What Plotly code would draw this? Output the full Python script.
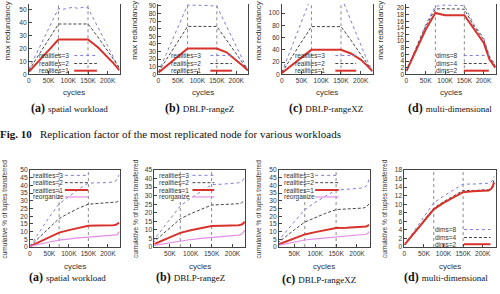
import plotly.graph_objects as go

# ---------------- data ----------------
# top row: max redundancy
top_cycles = [0, 25000, 50000, 75000, 87500, 100000, 112500, 125000, 137500, 150000, 175000, 200000, 215000, 230000]
spatial_r3 = [4, 20, 36, 51, 50.5, 51.5, 52, 51, 52, 51.5, 37, 22, 13, 4]
spatial_r2 = [3, 15, 27, 39, 39, 39, 39.5, 39, 39, 39, 29, 18.5, 11.5, 5]
spatial_r1 = [2, 10, 18.5, 27, 27, 27, 27, 27, 27, 27, 21, 13.5, 8.5, 3]
rangez_r3 = [3, 32, 62, 91, 91, 91, 90.5, 90.5, 90, 90, 63, 36, 20, 5]
rangez_r2 = [3, 23, 43, 63, 63, 63, 63, 63, 63, 63, 45, 26, 16, 5]
rangez_r1 = [2, 12.5, 23, 34, 34, 34, 34, 34, 34, 34, 29, 19, 12, 5]
rangexz_r3 = [3, 45, 87, 128, 128, 128, 128, 128, 128, 128, 88, 48, 25, 5]
rangexz_r2 = [3, 28, 53, 78, 78, 78, 78, 78, 78, 78, 56, 33, 19, 5]
rangexz_r1 = [2, 15, 27.5, 40, 40, 40, 40, 40, 40, 40, 34, 24, 15, 5]
multi_d8 = [1, 8.3, 15, 20.5, 20.8, 20.9, 20.8, 20.9, 20.8, 20.7, 15, 11, 5.5, 3]
multi_d4 = [1, 8, 14.5, 19.7, 19.8, 19.8, 19.7, 19.8, 19.7, 19.6, 14.5, 10.5, 5, 2.5]
multi_d2 = [1, 7.5, 13.5, 18.5, 18.2, 17.8, 17.8, 17.9, 17.8, 17.8, 13.5, 9.5, 4.5, 2]

# bottom row: cumulative % of tuples transferred
bot_cycles = [0, 25000, 50000, 75000, 100000, 125000, 150000, 175000, 200000, 215000, 222000, 226000, 229000]
sp_b_r3 = [0.5, 10, 19.5, 28, 33, 37.5, 41.5, 41.5, 41.8, 42.3, 43.3, 44.8, 47]
sp_b_r2 = [0.5, 6.5, 12.5, 18.5, 22, 25.2, 27.8, 28.2, 28.4, 28.8, 29.2, 29.8, 30.5]
sp_b_r1 = [0.5, 3.5, 6.5, 9.4, 11, 12.5, 13.8, 14, 14, 14.2, 14.6, 15, 15.8]
sp_b_re = [0.5, 2, 3.3, 4.5, 5.3, 5.9, 6.4, 6.8, 7.1, 7.4, 7.9, 8.6, 10]
rz_b_r3 = [0.5, 8.5, 16.3, 24, 28.5, 32.7, 36.4, 36.7, 37, 37.5, 38.3, 39.5, 41.5]
rz_b_r2 = [0.5, 6, 11.3, 16.5, 19.5, 22.2, 24.5, 24.8, 25, 25.3, 25.8, 26.5, 27.5]
rz_b_r1 = [0.5, 3, 5.7, 8.3, 9.8, 11.1, 12.3, 12.4, 12.5, 12.7, 13.2, 13.8, 14.8]
rz_b_re = [0.5, 1.5, 2.6, 3.6, 4.4, 5.1, 5.7, 6.2, 6.6, 7, 7.6, 8.5, 9.9]
rxz_b_r3 = [0.5, 8.5, 16.5, 24.3, 29, 33.2, 37, 37.4, 37.8, 38.4, 39.5, 41.2, 44.5]
rxz_b_r2 = [0.5, 6, 11.2, 16.2, 19.2, 21.9, 24.3, 24.6, 24.9, 25.3, 26, 26.8, 28]
rxz_b_r1 = [0.5, 3, 5.6, 8.2, 9.7, 11.1, 12.4, 12.6, 12.8, 13, 13.4, 13.9, 14.5]
rxz_b_re = [0.5, 2, 3.3, 4.6, 5.3, 5.9, 6.5, 6.9, 7.3, 7.7, 8.3, 9, 10]
md_b_d8 = [0.5, 3.8, 7.1, 10.3, 11.9, 13.3, 14.7, 14.7, 14.8, 14.9, 15.2, 15.7, 16.5]
md_b_d4 = [0.5, 3.4, 6.3, 9.1, 10.6, 12, 13.2, 13.2, 13.3, 13.4, 13.8, 14.5, 15.8]
md_b_d2 = [0.5, 3.3, 6.1, 8.8, 10.3, 11.6, 12.8, 13, 13.1, 13.2, 13.6, 14.2, 15.1]

phase_marks = [75000, 150000]
x_tickvals = [0, 50000, 100000, 150000, 200000]
x_ticktext = ["0", "50K", "100K", "150K", "200K"]
captions = [("(a)", "spatial workload"), ("(b)", "DBLP-rangeZ"),
            ("(c)", "DBLP-rangeXZ"), ("(d)", "multi-dimensional")]
fig_caption_label = "Fig. 10"
fig_caption_text = "Replication factor of the most replicated node for various workloads"

# ---------------- styles ----------------
STY = {
    "r3": dict(color="#7b7bdc", width=1, dash="dot"),
    "r2": dict(color="#444444", width=1, dash="3px,2px"),
    "r1": dict(color="#d8322c", width=2, dash="solid"),
    "re": dict(color="#e48ee4", width=1.2, dash="solid"),
}
SANS = "Liberation Sans"
SERIF = "Liberation Serif"
AX = "#444444"

panels = [
    (1, top_cycles, [("r3", spatial_r3), ("r2", spatial_r2), ("r1", spatial_r1)], [0, 54.5], 10, [0, 230000]),
    (2, top_cycles, [("r3", rangez_r3), ("r2", rangez_r2), ("r1", rangez_r1)], [0, 92.5], 10, [0, 230000]),
    (3, top_cycles, [("r3", rangexz_r3), ("r2", rangexz_r2), ("r1", rangexz_r1)], [0, 115], 20, [0, 230000]),
    (4, top_cycles, [("r3", multi_d8), ("r2", multi_d4), ("r1", multi_d2)], [0, 21.2], 2, [0, 232000]),
    (5, bot_cycles, [("r3", sp_b_r3), ("r2", sp_b_r2), ("r1", sp_b_r1), ("re", sp_b_re)], [0, 50], 5, [0, 230000]),
    (6, bot_cycles, [("r3", rz_b_r3), ("r2", rz_b_r2), ("r1", rz_b_r1), ("re", rz_b_re)], [0, 45], 5, [13000, 230000]),
    (7, bot_cycles, [("r3", rxz_b_r3), ("r2", rxz_b_r2), ("r1", rxz_b_r1), ("re", rxz_b_re)], [0, 50], 5, [13000, 230000]),
    (8, bot_cycles, [("r3", md_b_d8), ("r2", md_b_d4), ("r1", md_b_d2)], [0, 18], 2, [0, 234000]),
]

W, H = 500, 294
xpix = [(27, 118), (157, 247), (281, 372), (406, 496),
        (28, 118), (153, 244), (278, 369), (404, 496)]
top_ypix = (0, 72)
bot_ypix = (170, 249)

def px(v):
    return v / W

def py(v):
    return 1 - v / H

fig = go.Figure()
layout = dict(width=W, height=H, margin=dict(l=0, r=0, t=0, b=0),
              paper_bgcolor="white", plot_bgcolor="white", showlegend=False)
shapes = []
annotations = []

def note(text, x, y, size, family=SANS, xanchor="center", angle=0, xref="paper", yref="paper", color="#333"):
    annotations.append(dict(text=text, x=x, y=y, xref=xref, yref=yref, xanchor=xanchor,
                            yanchor="middle", textangle=angle, showarrow=False,
                            font=dict(family=family, size=size, color=color)))

for idx, xs, series, yr, dt, xr in panels:
    sfx = "" if idx == 1 else str(idx)
    top = idx <= 4
    x0, x1 = xpix[idx - 1]
    yp = top_ypix if top else bot_ypix
    layout["xaxis" + sfx] = dict(
        domain=[px(x0), px(x1)], anchor="y" + sfx, range=xr,
        tickvals=x_tickvals, ticktext=x_ticktext,
        ticks="inside", ticklen=3, tickcolor=AX, showgrid=False, zeroline=False,
        showline=True, linecolor=AX, linewidth=1, mirror=(not top),
        tickfont=dict(family=SANS, size=6.6, color="#333"),
    )
    layout["yaxis" + sfx] = dict(
        domain=[py(yp[1]), py(yp[0])], anchor="x" + sfx, range=yr, dtick=dt, tick0=0,
        ticks="inside", ticklen=3, tickcolor=AX, showgrid=False, zeroline=False,
        showline=True, linecolor=AX, linewidth=1, mirror=True,
        tickfont=dict(family=SANS, size=6.6, color="#333"),
    )
    for m in phase_marks:
        fig.add_trace(go.Scatter(x=[m, m], y=[yr[0], yr[1]], mode="lines",
                                 line=dict(color="#888888", width=1, dash="dot"),
                                 xaxis="x" + sfx, yaxis="y" + sfx, hoverinfo="skip"))
    for key, ys in series:
        fig.add_trace(go.Scatter(x=xs, y=ys, mode="lines", line=STY[key],
                                 xaxis="x" + sfx, yaxis="y" + sfx))
    note("cycles", px((x0 + x1) / 2), py(91 if top else 269), 8)

ytitle_top_x = [5, 133, 257, 380]
ytitle_bot_x = [3, 134, 258, 384]
for i in range(4):
    note("max redundancy", px(ytitle_top_x[i]), py(27), 8, angle=-90)
    note("cumulative % of tuples transferred", px(ytitle_bot_x[i]), py(209.5), 6.5, angle=-90)

cap_top = [(68, 107), (198, 107), (325, 107), (450, 107)]
cap_bot = [(66, 280), (189, 280), (318, 282), (446, 280)]
for i, (lab, txt) in enumerate(captions):
    for cx, cy in (cap_top[i], cap_bot[i]):
        note("<b>" + lab + "</b> <span style='font-size:9px'>" + txt + "</span>",
             px(cx), py(cy), 12, family=SERIF, color="#111")

note("<b>" + fig_caption_label + "</b>   " + fig_caption_text, px(-4), py(133), 11,
     family=SERIF, xanchor="left", color="#111")

top_names = ["realities=3", "realities=2", "realities=1"]
dim_names = ["dims=8", "dims=4", "dims=2"]
bot_names = ["realities=3", "realities=2", "realities=1", "reorganize"]
keys3 = ["r3", "r2", "r1"]
keys4 = ["r3", "r2", "r1", "re"]

def legend(idx, names, keys, tx, s0, s1, rows, anchor):
    sfx = "" if idx == 1 else str(idx)
    for name, key, ry in zip(names, keys, rows):
        note(name, tx, ry, 6.5, xanchor=anchor, xref="x" + sfx + " domain", yref="y" + sfx + " domain")
        st = STY[key]
        shapes.append(dict(type="line", x0=s0, x1=s1, y0=ry, y1=ry,
                           xref="x" + sfx + " domain", yref="y" + sfx + " domain",
                           line=dict(color=st["color"], width=st["width"], dash=st["dash"])))

top_rows = [0.268, 0.153, 0.051]
legend(1, top_names, keys3, 0.47, 0.50, 0.75, top_rows, "right")
legend(2, top_names, keys3, 0.50, 0.58, 0.82, top_rows, "right")
legend(3, top_names, keys3, 0.50, 0.59, 0.82, top_rows, "right")
legend(4, dim_names, keys3, 0.60, 0.64, 0.92, top_rows, "right")
bot_rows = [0.93, 0.835, 0.74, 0.65]
legend(5, bot_names, keys4, 0.01, 0.39, 0.65, bot_rows, "left")
legend(6, bot_names, keys4, 0.03, 0.42, 0.66, bot_rows, "left")
legend(7, bot_names, keys4, 0.03, 0.40, 0.66, bot_rows, "left")
legend(8, dim_names, keys3, 0.60, 0.65, 0.94, [0.227, 0.124, 0.037], "right")

layout["shapes"] = shapes
layout["annotations"] = annotations
fig.update_layout(**layout)
fig.write_html("out.html")
